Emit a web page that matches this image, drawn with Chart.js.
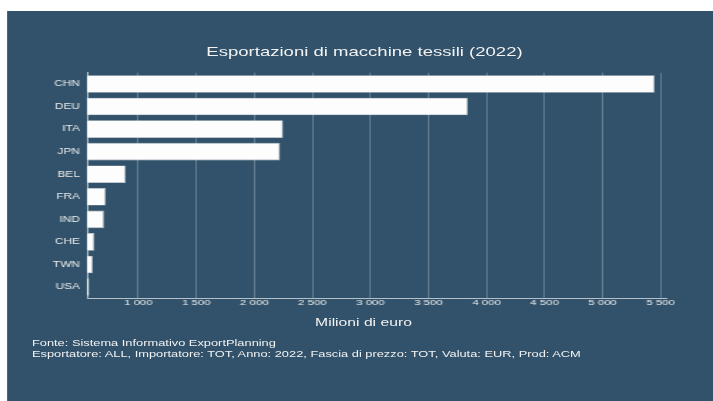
<!DOCTYPE html>
<html>
<head>
<meta charset="utf-8">
<script src="https://cdn.jsdelivr.net/npm/chart.js@4.4.0/dist/chart.umd.min.js"></script>
<style>
  html, body { margin: 0; padding: 0; background: #fff; overflow: hidden; }
  /* the reference is stretched sideways, so draw at 500px wide and stretch */
  #stage { position: absolute; left: 0; top: 0; width: 500px; height: 401px;
           transform: scaleX(1.426); transform-origin: 0 0;
           font-family: "Liberation Sans", Arial, sans-serif; }
  #panel { position: absolute; left: 5.3px; top: 10.7px; width: 494.7px; height: 390.3px; background: #31526a; }
  #wrap { position: absolute; left: 0; top: 0; width: 500px; height: 401px; }
  .txt { position: absolute; color: #f2f2f2; white-space: nowrap; }
  #titolo { top: 43.5px; left: 255.6px; transform: translateX(-50%); font-size: 13px; line-height: 15px; }
  #asse { top: 315.5px; left: 254.9px; transform: translateX(-50%); font-size: 11px; line-height: 13px; }
  #fonte { top: 337.5px; left: 22.4px; font-size: 9px; line-height: 11px; }
</style>
</head>
<body>
<div id="stage">
  <div id="panel"></div>
  <div id="wrap"><canvas id="chart"></canvas></div>
  <div class="txt" id="titolo">Esportazioni di macchine tessili (2022)</div>
  <div class="txt" id="asse">Milioni di euro</div>
  <div class="txt" id="fonte">Fonte: Sistema Informativo ExportPlanning<br>Esportatore: ALL, Importatore: TOT, Anno: 2022, Fascia di prezzo: TOT, Valuta: EUR, Prod: ACM</div>
</div>
<script>
// dati (milioni di euro)
const paesi = ['CHN', 'DEU', 'ITA', 'JPN', 'BEL', 'FRA', 'IND', 'CHE', 'TWN', 'USA'];
const esportazioni = [5448, 3840, 2247, 2221, 891, 719, 704, 621, 607, 576];
const tickX = [1000, 1500, 2000, 2500, 3000, 3500, 4000, 4500, 5000, 5500];
const X_MIN = 558;
const X_MAX = 5555;

const coloreAsse = '#b4c0ca';
const coloreTesto = '#ececec';

// separatore delle migliaia con spazio: 1 000
const formatta = (v) => String(v).replace(/\B(?=(\d{3})+(?!\d))/g, ' ');

const ctx = document.getElementById('chart').getContext('2d');
new Chart(ctx, {
    type: 'bar',
    data: {
        labels: paesi,
        datasets: [{
            data: esportazioni,
            base: X_MIN,
            backgroundColor: '#fdfdfd',
            borderColor: '#cfd4d8',
            borderWidth: 0.6,
            categoryPercentage: 1,
            barPercentage: 0.78
        }]
    },
    options: {
        indexAxis: 'y',
        responsive: true,
        maintainAspectRatio: false,
        animation: false,
        layout: { padding: { left: 0, right: 32.3, top: 72.7, bottom: 82.7 } },
        plugins: {
            legend: { display: false },
            title: { display: false },
            tooltip: { enabled: false }
        },
        scales: {
            x: {
                type: 'linear',
                min: X_MIN,
                max: X_MAX,
                afterFit: (scale) => { scale.height = 20; },
                afterBuildTicks: (scale) => { scale.ticks = tickX.map(v => ({ value: v })); },
                ticks: {
                    padding: 0,
                    color: coloreTesto,
                    font: { family: '"Liberation Sans", Arial, sans-serif', size: 8 },
                    maxRotation: 0,
                    autoSkip: false,
                    callback: (v) => formatta(v)
                },
                grid: { color: 'rgba(255,255,255,0.25)', lineWidth: 1, drawTicks: false },
                border: { display: true, color: coloreAsse, width: 1 }
            },
            y: {
                afterFit: (scale) => { scale.width = 61; },
                ticks: {
                    padding: 5,
                    color: coloreTesto,
                    font: { family: '"Liberation Sans", Arial, sans-serif', size: 8.3 }
                },
                grid: { display: false, drawTicks: false },
                border: { display: true, color: coloreAsse, width: 1 }
            }
        }
    }
});
</script>
</body>
</html>
